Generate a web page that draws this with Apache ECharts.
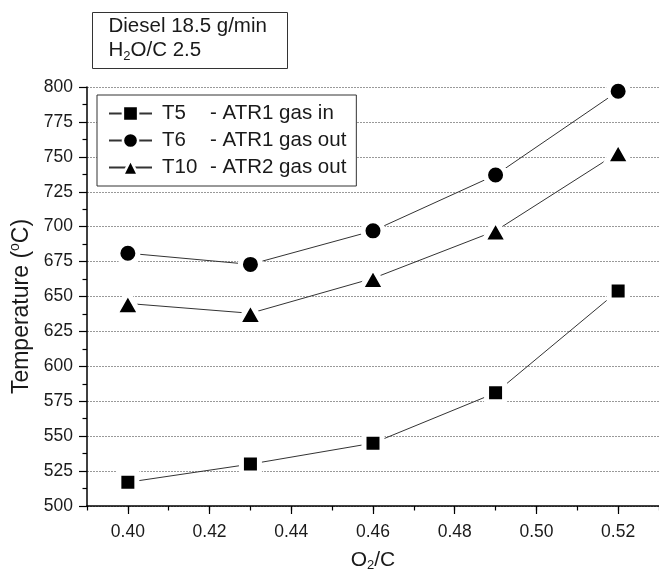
<!DOCTYPE html>
<html>
<head>
<meta charset="utf-8">
<script src="https://cdn.jsdelivr.net/npm/echarts@6/dist/echarts.min.js"></script>
<style>
  html, body { margin: 0; padding: 0; background: #fff; }
  #chart { width: 659px; height: 572px; }
</style>
</head>
<body>
<div id="chart"></div>
<script>
// O2/C ratio on the x axis
const o2c = [0.40, 0.43, 0.46, 0.49, 0.52];
// Temperatures (°C) at three measurement points
const t5 = [517, 530, 545, 581, 654];
const t6 = [681, 673, 697, 737, 797];
const t10 = [645, 638, 663, 697, 753];
// Labelled x ticks
const xTickLabels = [0.40, 0.42, 0.44, 0.46, 0.48, 0.50, 0.52];

const seriesCodes = ['T5', 'T6', 'T10'];
const seriesDescs = ['- ATR1 gas in', '- ATR1 gas out', '- ATR2 gas out'];
const seriesValues = [t5, t6, t10];
const seriesSymbols = ['rect', 'circle', 'triangle'];
const seriesSizes = [[18, 18], [20, 20], [25, 22]];

const FONT = '"Liberation Sans", Arial, Helvetica, sans-serif';
const INK = '#1a1a1a';

const chart = echarts.init(document.getElementById('chart'), null, { renderer: 'canvas' });

const series = seriesValues.map((vals, i) => ({
  name: seriesCodes[i],
  type: 'line',
  data: o2c.map((x, k) => [x, vals[k]]),
  symbol: seriesSymbols[i],
  symbolSize: seriesSizes[i],
  lineStyle: { color: '#333', width: 1 },
  itemStyle: { color: '#000', borderColor: '#fff', borderWidth: 5 },
  emphasis: { disabled: true },
  animation: false
}));

const axisCommon = {
  type: 'value',
  min: 0.39,
  max: 0.53,
  interval: 0.01,
  position: 'bottom'
};

const option = {
  backgroundColor: '#fff',
  animation: false,
  grid: { left: 87, top: 87, right: 0, bottom: 66, containLabel: false, outerBoundsMode: 'none' },
  xAxis: [
    Object.assign({}, axisCommon, {
      name: '{n|O}{s|2}{n|/C}',
      nameLocation: 'middle',
      nameGap: 42,
      nameTextStyle: {
        rich: {
          n: { fontFamily: FONT, fontSize: 21, color: INK, lineHeight: 24 },
          s: { fontFamily: FONT, fontSize: 13, color: INK, lineHeight: 8, verticalAlign: 'bottom' }
        }
      },
      axisLine: { show: true, onZero: false, lineStyle: { color: '#000', width: 1.5 } },
      axisTick: { show: true, inside: false, length: 8, customValues: xTickLabels, lineStyle: { color: '#000', width: 1.2 } },
      axisLabel: {
        fontFamily: FONT, fontSize: 17.5, color: INK, margin: 17,
        customValues: xTickLabels,
        formatter: v => v.toFixed(2)
      },
      splitLine: { show: false }
    }),
    // short ticks at every 0.01
    Object.assign({}, axisCommon, {
      axisLine: { show: false, onZero: false },
      axisTick: { show: true, inside: false, length: 4.5, lineStyle: { color: '#000', width: 1.2 } },
      axisLabel: { show: false },
      splitLine: { show: false }
    })
  ],
  yAxis: {
    type: 'value',
    min: 500,
    max: 800,
    interval: 25,
    name: '{n|Temperature (}{s|o}{n|C)}',
    nameLocation: 'middle',
    nameRotate: 90,
    nameGap: 50,
    nameTextStyle: {
      padding: [0, 20, 0, 0],
      rich: {
        n: { fontFamily: FONT, fontSize: 23, color: INK, lineHeight: 26 },
        s: { fontFamily: FONT, fontSize: 14, color: INK, lineHeight: 9, verticalAlign: 'top' }
      }
    },
    axisLine: { show: true, onZero: false, lineStyle: { color: '#000', width: 1.5 } },
    axisTick: { show: true, inside: false, length: 8, lineStyle: { color: '#000', width: 1.2 } },
    minorTick: { show: true, splitNumber: 2, length: 4.5, lineStyle: { color: '#000', width: 1.2 } },
    axisLabel: { fontFamily: FONT, fontSize: 17.5, color: INK, margin: 14 },
    splitLine: { show: true, lineStyle: { color: '#999', width: 1, type: [2, 1] } }
  },
  legend: {
    orient: 'vertical',
    left: 97,
    top: 95,
    padding: [8, 10, 8, 11],
    backgroundColor: '#fff',
    borderColor: '#333',
    borderWidth: 1,
    itemWidth: 43,
    itemHeight: 19,
    itemGap: 6,
    selectedMode: false,
    itemStyle: { borderWidth: 2.5 },
    textStyle: {
      fontFamily: FONT, fontSize: 20.5, color: INK,
      rich: {
        c: { fontFamily: FONT, fontSize: 20.5, color: INK, width: 48, padding: [0, 0, 0, 5] },
        d: { fontFamily: FONT, fontSize: 20.5, color: INK }
      }
    },
    formatter: name => {
      const i = seriesCodes.indexOf(name);
      return '{c|' + name + '}{d|' + seriesDescs[i] + '}';
    },
    data: seriesCodes
  },
  graphic: [
    {
      type: 'group',
      left: 92,
      top: 12,
      children: [
        {
          type: 'rect',
          shape: { x: 0, y: 0, width: 195, height: 56 },
          style: { fill: '#fff', stroke: '#333', lineWidth: 1 }
        },
        {
          type: 'text',
          x: 16,
          y: 3,
          style: {
            text: 'Diesel 18.5 g/min',
            fontFamily: FONT, fontSize: 20.5, fill: INK
          }
        },
        {
          type: 'text',
          x: 16,
          y: 26,
          style: {
            text: '{n|H}{s|2}{n|O/C 2.5}',
            rich: {
              n: { fontFamily: FONT, fontSize: 20.5, fill: INK, lineHeight: 24 },
              s: { fontFamily: FONT, fontSize: 13, fill: INK, lineHeight: 8, verticalAlign: 'bottom' }
            }
          }
        }
      ]
    }
  ],
  series: series
};

chart.setOption(option);
</script>
</body>
</html>
